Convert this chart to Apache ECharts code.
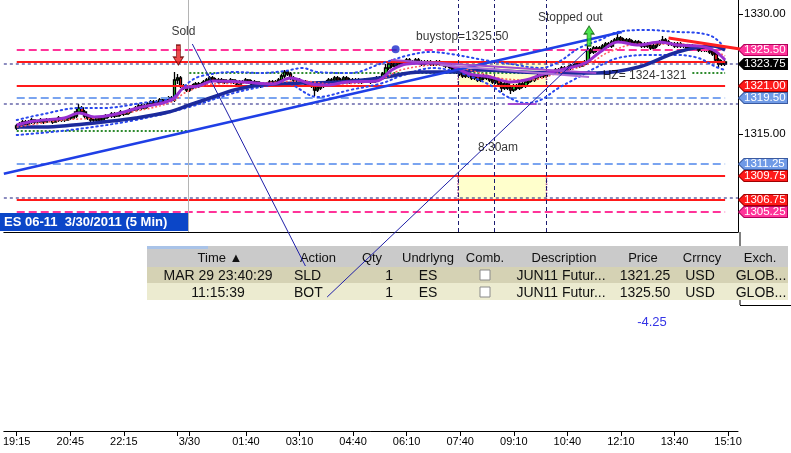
<!DOCTYPE html>
<html><head><meta charset="utf-8">
<script src="https://cdn.jsdelivr.net/npm/echarts@6.0.0/dist/echarts.min.js"></script>
<style>html,body{margin:0;padding:0;background:#fff}#c{width:791px;height:453px}</style>
</head><body><div id="c"></div>
<script>
// ---------- DATA ----------
// 5-minute bars from 19:15 (bar 0) to 14:55 (bar 238): [open, close, low, high]
const candles = [
[1315.75,1316.00,1315.50,1316.25],[1316.00,1316.25,1315.75,1316.50],[1316.25,1316.50,1316.00,1316.75],[1316.50,1316.25,1316.00,1316.75],
[1316.25,1316.50,1316.25,1316.75],[1316.50,1316.75,1316.25,1317.00],[1316.75,1316.50,1316.25,1316.75],[1316.50,1316.50,1316.25,1316.75],
[1316.50,1316.75,1316.50,1317.00],[1316.75,1316.50,1316.25,1316.75],[1316.50,1316.75,1316.50,1317.00],[1316.75,1316.75,1316.50,1317.00],
[1316.75,1316.50,1316.25,1316.75],[1316.50,1316.75,1316.50,1317.00],[1316.75,1317.00,1316.50,1317.25],[1317.00,1316.75,1316.50,1317.00],
[1316.75,1316.75,1316.50,1317.00],[1316.75,1317.00,1316.75,1317.25],[1317.00,1317.00,1316.75,1317.25],[1317.00,1317.25,1317.00,1317.50],
[1317.25,1317.75,1317.00,1318.25],[1317.75,1318.25,1317.50,1318.75],[1318.25,1317.75,1317.50,1318.50],[1317.75,1317.25,1317.00,1318.00],
[1317.25,1317.00,1316.75,1317.50],[1317.00,1316.75,1316.50,1317.25],[1316.75,1316.75,1316.50,1317.00],[1316.75,1317.00,1316.50,1317.25],
[1317.00,1316.75,1316.50,1317.00],[1316.75,1317.00,1316.75,1317.25],[1317.00,1317.25,1317.00,1317.50],[1317.25,1317.25,1317.00,1317.50],
[1317.25,1317.50,1317.00,1317.75],[1317.50,1317.25,1317.00,1317.75],[1317.25,1317.50,1317.25,1317.75],[1317.50,1317.75,1317.25,1318.00],
[1317.75,1317.50,1317.25,1317.75],[1317.50,1317.75,1317.50,1318.00],[1317.75,1318.00,1317.50,1318.25],[1318.00,1318.00,1317.75,1318.25],
[1318.00,1318.25,1318.00,1318.50],[1318.25,1318.50,1318.00,1318.75],[1318.50,1318.25,1318.00,1318.75],[1318.25,1318.50,1318.25,1318.75],
[1318.50,1318.75,1318.25,1319.00],[1318.75,1319.00,1318.50,1319.25],[1319.00,1318.75,1318.50,1319.25],[1318.75,1319.00,1318.75,1319.25],
[1319.00,1319.25,1318.75,1319.50],[1319.25,1319.00,1318.75,1319.50],[1319.00,1319.25,1319.00,1319.50],[1319.25,1319.50,1319.00,1319.75],
[1319.50,1319.25,1319.00,1319.75],[1319.25,1321.75,1319.00,1322.75],[1321.75,1322.00,1321.25,1322.50],[1322.00,1321.00,1320.75,1322.25],
[1321.00,1320.75,1320.50,1321.25],[1320.75,1320.50,1320.25,1321.00],[1320.50,1320.75,1320.25,1321.00],[1320.75,1321.00,1320.50,1321.25],
[1321.00,1321.25,1320.75,1321.50],[1321.25,1321.00,1320.75,1321.50],[1321.00,1321.25,1321.00,1321.50],[1321.25,1321.50,1321.00,1321.75],
[1321.50,1321.75,1321.25,1322.00],[1321.75,1322.00,1321.50,1322.25],[1322.00,1321.75,1321.50,1322.25],[1321.75,1321.75,1321.50,1322.00],
[1321.75,1321.50,1321.25,1322.00],[1321.50,1321.75,1321.50,1322.00],[1321.75,1321.50,1321.25,1321.75],[1321.50,1321.50,1321.25,1321.75],
[1321.50,1321.75,1321.50,1322.00],[1321.75,1321.50,1321.25,1321.75],[1321.50,1321.25,1321.00,1321.75],[1321.25,1321.50,1321.25,1321.75],
[1321.50,1321.50,1321.25,1321.75],[1321.50,1321.75,1321.50,1322.00],[1321.75,1321.50,1321.25,1321.75],[1321.50,1321.25,1321.00,1321.75],
[1321.25,1321.50,1321.00,1321.75],[1321.50,1321.25,1321.00,1321.50],[1321.25,1321.00,1320.75,1321.50],[1321.00,1321.25,1321.00,1321.50],
[1321.25,1321.25,1321.00,1321.50],[1321.25,1321.50,1321.25,1321.75],[1321.50,1321.25,1321.00,1321.75],[1321.25,1321.50,1321.25,1321.75],
[1321.50,1321.75,1321.50,1322.00],[1321.75,1322.25,1321.75,1322.50],[1322.25,1322.75,1322.00,1323.00],[1322.75,1322.50,1322.25,1323.00],
[1322.50,1322.00,1321.75,1322.75],[1322.00,1321.75,1321.50,1322.25],[1321.75,1321.75,1321.50,1322.00],[1321.75,1321.50,1321.25,1322.00],
[1321.50,1321.50,1321.25,1321.75],[1321.50,1321.25,1321.00,1321.75],[1321.25,1321.25,1321.00,1321.50],[1321.25,1321.00,1320.75,1321.50],
[1321.00,1320.50,1319.75,1321.25],[1320.50,1320.75,1320.25,1321.00],[1320.75,1321.00,1320.50,1321.25],[1321.00,1321.25,1320.75,1321.50],
[1321.25,1321.50,1321.00,1321.75],[1321.50,1321.75,1321.25,1322.00],[1321.75,1321.75,1321.50,1322.00],[1321.75,1322.00,1321.50,1322.25],
[1322.00,1321.75,1321.50,1322.25],[1321.75,1321.75,1321.50,1322.00],[1321.75,1322.00,1321.75,1322.25],[1322.00,1321.75,1321.50,1322.25],
[1321.75,1321.50,1321.25,1322.00],[1321.50,1321.75,1321.50,1322.00],[1321.75,1321.75,1321.50,1322.00],[1321.75,1321.50,1321.25,1322.00],
[1321.50,1321.50,1321.25,1321.75],[1321.50,1321.75,1321.50,1322.00],[1321.75,1321.75,1321.50,1322.00],[1321.75,1321.50,1321.25,1322.00],
[1321.50,1321.75,1321.50,1322.00],[1321.75,1322.00,1321.50,1322.25],[1322.00,1322.00,1321.75,1322.25],[1322.00,1322.50,1321.75,1322.75],
[1322.50,1323.25,1322.25,1323.75],[1323.25,1323.75,1323.00,1324.00],[1323.75,1323.50,1323.25,1324.25],[1323.50,1323.75,1323.25,1324.00],
[1323.75,1324.00,1323.50,1324.25],[1324.00,1323.75,1323.50,1324.25],[1323.75,1324.00,1323.75,1324.25],[1324.00,1324.25,1323.75,1324.50],
[1324.25,1324.00,1323.75,1324.50],[1324.00,1324.00,1323.75,1324.25],[1324.00,1324.25,1323.75,1324.50],[1324.25,1324.00,1323.75,1324.50],
[1324.00,1323.75,1323.50,1324.25],[1323.75,1324.00,1323.50,1324.25],[1324.00,1324.00,1323.75,1324.25],[1324.00,1323.75,1323.50,1324.25],
[1323.75,1323.75,1323.50,1324.00],[1323.75,1324.00,1323.50,1324.25],[1324.00,1323.75,1323.50,1324.25],[1323.75,1323.75,1323.50,1324.00],
[1323.75,1323.50,1323.25,1324.00],[1323.50,1323.50,1323.25,1323.75],[1323.50,1323.25,1323.00,1323.75],[1323.25,1323.00,1322.75,1323.50],
[1323.00,1322.75,1322.50,1323.25],[1322.75,1322.50,1322.25,1323.00],[1322.50,1322.25,1322.00,1322.75],[1322.25,1322.50,1322.00,1322.75],
[1322.50,1322.25,1322.00,1322.75],[1322.25,1322.00,1321.75,1322.50],[1322.00,1322.25,1321.75,1322.50],[1322.25,1321.75,1321.50,1322.50],
[1321.75,1322.00,1321.50,1322.25],[1322.00,1322.25,1321.75,1322.50],[1322.25,1322.00,1321.75,1322.50],[1322.00,1321.75,1321.50,1322.25],
[1321.75,1321.50,1321.25,1322.00],[1321.50,1321.75,1321.25,1322.00],[1321.75,1321.25,1321.00,1322.00],[1321.25,1320.75,1320.25,1321.50],
[1320.75,1321.25,1320.50,1321.50],[1321.25,1320.75,1320.50,1321.50],[1320.75,1320.50,1320.00,1321.00],[1320.50,1321.00,1320.25,1321.25],
[1321.00,1320.75,1320.50,1321.25],[1320.75,1321.25,1320.50,1321.50],[1321.25,1321.00,1320.75,1321.50],[1321.00,1321.50,1320.75,1321.75],
[1321.50,1321.75,1321.25,1322.00],[1321.75,1321.75,1321.50,1322.00],[1321.75,1322.00,1321.50,1322.25],[1322.00,1322.25,1321.75,1322.50],
[1322.25,1322.50,1322.00,1322.75],[1322.50,1322.25,1322.00,1322.75],[1322.25,1322.50,1322.25,1322.75],[1322.50,1322.75,1322.25,1323.00],
[1322.75,1322.75,1322.50,1323.00],[1322.75,1323.00,1322.50,1323.25],[1323.00,1323.00,1322.75,1323.25],[1323.00,1323.25,1322.75,1323.50],
[1323.25,1323.00,1322.75,1323.50],[1323.00,1323.25,1323.00,1323.50],[1323.25,1323.50,1323.00,1323.75],[1323.50,1323.50,1323.25,1323.75],
[1323.50,1323.75,1323.25,1324.00],[1323.75,1323.50,1323.25,1324.00],[1323.50,1323.75,1323.50,1324.00],[1323.75,1324.00,1323.50,1324.25],
[1324.00,1325.50,1323.75,1326.00],[1325.50,1325.25,1325.00,1325.75],[1325.25,1325.75,1325.00,1326.00],[1325.75,1325.50,1325.25,1326.00],
[1325.50,1325.75,1325.25,1326.00],[1325.75,1326.00,1325.50,1326.25],[1326.00,1326.25,1325.75,1326.50],[1326.25,1326.00,1325.75,1326.50],
[1326.00,1326.50,1325.75,1326.75],[1326.50,1326.75,1326.25,1327.00],[1326.75,1327.00,1326.50,1327.50],[1327.00,1326.75,1326.50,1327.25],
[1326.75,1326.50,1326.25,1327.00],[1326.50,1326.75,1326.25,1327.00],[1326.75,1326.50,1326.25,1327.00],[1326.50,1326.25,1326.00,1326.75],
[1326.25,1326.50,1326.00,1326.75],[1326.50,1326.25,1326.00,1326.75],[1326.25,1326.00,1325.75,1326.50],[1326.00,1326.25,1325.75,1326.50],
[1326.25,1326.00,1325.75,1326.50],[1326.00,1325.75,1325.50,1326.25],[1325.75,1326.00,1325.50,1326.25],[1326.00,1326.25,1325.75,1326.50],
[1326.25,1326.50,1326.00,1326.75],[1326.50,1326.75,1326.25,1327.25],[1326.75,1326.50,1326.25,1327.00],[1326.50,1326.25,1326.00,1326.75],
[1326.25,1326.25,1326.00,1326.50],[1326.25,1326.00,1325.75,1326.50],[1326.00,1326.25,1325.75,1326.50],[1326.25,1326.00,1325.75,1326.50],
[1326.00,1326.00,1325.75,1326.25],[1326.00,1325.75,1325.50,1326.25],[1325.75,1326.00,1325.50,1326.25],[1326.00,1325.75,1325.50,1326.25],
[1325.75,1325.75,1325.50,1326.00],[1325.75,1325.50,1325.25,1326.00],[1325.50,1325.75,1325.25,1326.00],[1325.75,1325.50,1325.25,1326.00],
[1325.50,1325.50,1325.25,1325.75],[1325.50,1325.25,1325.00,1325.75],[1325.25,1325.00,1324.75,1325.50],[1325.00,1324.25,1324.00,1325.25],
[1324.25,1323.75,1323.25,1324.50],[1323.75,1324.00,1323.50,1324.25],[1324.00,1323.75,1323.50,1324.25]
];
// indicator lines: [bar, price]
const fastMA = [[0,1316.125],[6,1316.625],[16,1317.0],[21,1317.625],[26,1317.125],[32,1317.375],[42,1318.375],[49,1318.875],[53,1319.5],[56,1320.75],[61,1321.0],[66,1321.625],[76,1321.5],[86,1321.25],[92,1322.0],[99,1321.25],[104,1321.125],[111,1321.5],[121,1321.625],[126,1323.0],[131,1323.75],[141,1323.875],[147,1323.375],[152,1322.5],[159,1322.125],[166,1321.5],[171,1321.75],[177,1322.5],[184,1323.125],[191,1323.875],[196,1325.25],[202,1326.5],[209,1326.125],[216,1326.5],[222,1326.125],[229,1326.0],[234,1325.5],[238,1324.25]];
const redMA = [[0,1315.875],[16,1316.75],[26,1317.0],[42,1318.0],[52,1319.0],[57,1320.25],[66,1321.25],[82,1321.375],[96,1321.625],[106,1321.25],[122,1321.75],[129,1323.0],[142,1323.625],[152,1323.0],[162,1322.0],[172,1321.75],[182,1322.625],[192,1323.75],[199,1325.25],[209,1326.25],[222,1326.25],[232,1325.75],[238,1324.75]];
const upperBand = [[0,1316.75],[9,1317.5],[21,1318.25],[29,1318.25],[42,1318.875],[52,1319.5],[58,1321.5],[62,1322.25],[73,1322.75],[82,1322.625],[90,1322.875],[96,1323.25],[101,1322.75],[112,1322.625],[123,1323.875],[132,1324.875],[139,1325.25],[146,1325.0],[157,1324.25],[166,1323.75],[176,1323.25],[182,1324.0],[189,1325.75],[196,1326.75],[202,1327.75],[212,1328.0],[222,1327.75],[229,1327.625],[234,1327.125],[238,1325.75]];
const lowerBand = [[0,1314.875],[18,1315.5],[40,1316.75],[58,1318.375],[73,1320.125],[82,1320.875],[90,1321.375],[101,1319.625],[112,1320.5],[123,1321.375],[129,1322.25],[140,1323.25],[149,1322.625],[159,1321.125],[165,1319.625],[171,1318.875],[176,1319.25],[182,1320.75],[187,1321.75],[195,1323.375],[202,1324.5],[212,1324.875],[222,1324.875],[229,1324.5],[235,1323.375],[238,1323.0]];
const slowMA = [[0,1315.875],[9,1315.875],[19,1316.125],[29,1316.5],[40,1317.0],[51,1317.75],[58,1318.625],[68,1319.875],[73,1320.5],[82,1321.125],[96,1321.375],[109,1321.5],[122,1322.0],[136,1322.75],[146,1322.75],[156,1323.0],[169,1322.75],[182,1322.625],[195,1322.625],[209,1323.375],[222,1325.25],[234,1326.0],[238,1325.5]];
// drawn trend lines / annotations: [bar, price]
const blueTrend = [[-4.333,1310.04],[203.3,1327.75]];
const redTrend = [[219,1327.0],[243,1325.625]];
const purpleLine1 = [[125.7,1324.25],[194.7,1322.625]];
const purpleLine2 = [[142.3,1323.625],[192.3,1322.125]];
const purpleLine3 = [[165,1318.75],[174.7,1318.75]];
const soldLink = [[59,1326.25],[97,1298.5]];
const botLink = [[192.3,1325.75],[104.3,1294.625]];
// horizontal levels
const pinkDashLevels = [1325.5, 1305.25];
const redLevels = [1324, 1321, 1309.75, 1306.75];
const blueDashLevels = [1319.5, 1311.25];
const navyDashLevels = [1323.75, 1318.75, 1307.0];
const greenDotted = [[[0,1315.375],[58,1315.375]],[[58,1322.625],[196,1322.625]],[[227,1322.625],[238,1322.625]]];
const zoneBars = [148.3, 178];
const zonePrices = [[1324, 1321], [1309.75, 1306.75]];
const verticalBars = [148.3, 160.3, 178];
const daySeparatorBar = 57.7;
const blueDot = [127.3, 1325.6];
const soldArrow = [54.3, 1324.875];
const stoppedArrow = [192.3, 1327.25];
const annotTexts = ['Sold', 'buystop=1325.50', 'Stopped out', 'HZ= 1324-1321', '8:30am'];
const annotPos = [[56,1327.75],[149.7,1327.125],[186,1329.5],[196.7,1322.3],[161.7,1313.25]];
// axis
const timeTickBars = [0,18,36,54,58,77,95,113,131,149,167,185,203,221,239];
const timeLabelBars = [0,18,36,58,77,95,113,131,149,167,185,203,221,239];
const timeLabels = ['19:15','20:45','22:15','3/30','01:40','03:10','04:40','06:10','07:40','09:10','10:40','12:10','13:40','15:10'];
const priceTickValues = [1330, 1315];
const priceLabelValues = [1330, 1325.5, 1323.75, 1321, 1319.5, 1315, 1311.25, 1309.75, 1306.75, 1305.25];
const tagValues = [1325.5, 1323.75, 1321, 1319.5, 1311.25, 1309.75, 1306.75, 1305.25];
const tagKinds = ['pink','black','red','blue','blue','red','red','pink'];
// table
const chartTitle = 'ES 06-11  3/30/2011 (5 Min)';
const tableHeader = ['Time \u25B2','Action','Qty','Undrlyng','Comb.','Description','Price','Crrncy','Exch.'];
const tableRows = [
  ['MAR 29 23:40:29','SLD','1','ES','','JUN11 Futur...','1321.25','USD','GLOB...'],
  ['11:15:39','BOT','1','ES','','JUN11 Futur...','1325.50','USD','GLOB...']
];
const pnlText = '-4.25';

// ---------- CHART ----------
const F = "'Liberation Sans', Arial, sans-serif";
const X_MIN = -13/3, X_MAX = 727/3;
const LAST = candles.length - 1;

function tagCanvas(fill, stroke) {
  const c = document.createElement('canvas');
  c.width = 100; c.height = 24;
  const g = c.getContext('2d');
  g.scale(2, 2);
  g.beginPath();
  g.moveTo(0.5, 6); g.lineTo(6, 0.5); g.lineTo(49.5, 0.5); g.lineTo(49.5, 11.5); g.lineTo(6, 11.5); g.closePath();
  g.fillStyle = fill; g.fill();
  g.strokeStyle = stroke; g.lineWidth = 1; g.stroke();
  return c;
}
function tagStyle(fill, stroke) {
  return {backgroundColor: {image: tagCanvas(fill, stroke)}, color: '#fff', fontSize: 11.5, fontFamily: F,
          width: 43, height: 12, lineHeight: 12, padding: [0, 1, 0, 6], align: 'left'};
}
function seg(data, style, z) {
  return {type: 'line', data: data, symbol: 'none', showSymbol: false, lineStyle: style, z: z, silent: true, clip: false};
}
function curve(data, style, z) {
  return {type: 'line', data: data, symbol: 'none', showSymbol: false, smooth: 0.35, lineStyle: style, z: z, silent: true};
}

const series = [];
// zones + verticals
series.push({
  type: 'line', data: [[X_MIN, 1302.75]], symbol: 'none', lineStyle: {width: 0}, silent: true,
  markArea: {silent: true, itemStyle: {color: '#ffffcc', borderColor: '#9a3a8a', borderWidth: 1.5, borderType: 'dotted'},
    data: zonePrices.map(p => [{coord: [zoneBars[0], p[0]]}, {coord: [zoneBars[1], p[1]]}])},
  markLine: {silent: true, symbol: ['none', 'none'], label: {show: false},
    data: [{xAxis: daySeparatorBar, lineStyle: {color: '#b4b4b4', width: 1, type: 'solid'}}]
      .concat(verticalBars.map(b => ({xAxis: b, lineStyle: {color: '#1c1c70', width: 1, type: [4, 3]}})))}
});
// green dotted
greenDotted.forEach(d => series.push(seg(d, {color: '#2e8b2e', width: 2, type: [2, 2]}, 3)));
// candles
series.push({
  type: 'candlestick', data: candles.map((d, i) => [i, d[0], d[1], d[2], d[3]]), encode: {x: 0, y: [1, 2, 3, 4]},
  barWidth: 3.2, z: 3, silent: true,
  itemStyle: {color: '#2fd02f', color0: '#e82020', borderColor: '#000', borderColor0: '#000', borderWidth: 1.3}
});
// horizontal levels
pinkDashLevels.forEach(p => series.push(seg([[0, p], [LAST, p]], {color: '#ff3399', width: 2, type: [8, 4]}, 4)));
redLevels.forEach(p => series.push(seg([[0, p], [LAST, p]], {color: '#ff1a1a', width: 2}, 4)));
blueDashLevels.forEach(p => series.push(seg([[0, p], [LAST, p]], {color: '#7aa4f0', width: 2, type: [8, 4]}, 4)));
navyDashLevels.forEach(p => series.push(seg([[X_MIN, p], [X_MAX, p]], {color: '#1a1a80', width: 1, type: [3, 3]}, 4)));
// indicators
series.push(curve(upperBand, {color: '#2a48ee', width: 2, type: [1.5, 3.5], cap: 'round'}, 5));
series.push(curve(lowerBand, {color: '#2a48ee', width: 2, type: [1.5, 3.5], cap: 'round'}, 5));
series.push(curve(slowMA, {color: '#1c2a9c', width: 3.5}, 5));
series.push(curve(redMA, {color: '#ff5a5a', width: 1.5, type: [2, 2]}, 6));
series.push(curve(fastMA, {color: '#9a2fd0', width: 3}, 6));
// trend lines
series.push(seg(blueTrend, {color: '#1f3fe6', width: 2.5}, 7));
series.push(seg(redTrend, {color: '#ff2020', width: 3}, 7));
series.push(seg(purpleLine1, {color: '#a24bd0', width: 2}, 7));
series.push(seg(purpleLine2, {color: '#b070d8', width: 2}, 7));
series.push(seg(purpleLine3, {color: '#a24bd0', width: 2}, 7));
series.push(seg(soldLink, {color: '#2020a8', width: 1}, 8));
series.push(seg(botLink, {color: '#2020a8', width: 1}, 8));
// markers
series.push({
  type: 'scatter', z: 9, silent: true, clip: false,
  data: [
    {value: blueDot, symbol: 'circle', symbolSize: 8, itemStyle: {color: '#1a2acc'}},
    {value: soldArrow, symbol: 'path://M3,0 L7,0 L7,12 L10,12 L5,20 L0,12 L3,12 Z', symbolSize: [10, 20],
      itemStyle: {color: '#e82020', borderColor: '#6a0000', borderWidth: 1}},
    {value: stoppedArrow, symbol: 'path://M5,0 L10,8 L7,8 L7,20 L3,20 L3,8 L0,8 Z', symbolSize: [10, 20],
      itemStyle: {color: '#22dd22', borderColor: '#0a5a0a', borderWidth: 1}}
  ]
});
// text annotations
series.push({
  type: 'scatter', z: 10, silent: true, clip: false, symbolSize: 1, itemStyle: {color: 'rgba(0,0,0,0)'},
  data: annotTexts.map((t, i) => ({name: t, value: annotPos[i],
    label: {show: true, formatter: '{b}', color: '#000', fontSize: 12, fontFamily: F,
      position: t.indexOf('HZ') === 0 ? 'right' : 'inside', distance: 0}}))
});

// y axis label rich styles
const rich = {
  plain: {color: '#000', fontSize: 11.5, fontFamily: F, padding: [0, 0, 0, 6]},
  pink: tagStyle('#ff3399', '#b0005a'),
  black: tagStyle('#000000', '#000000'),
  red: tagStyle('#ff1a1a', '#a00000'),
  blue: tagStyle('#6f9ae6', '#3a5aa0')
};

// table graphics
const colCenters = [220, 318, 372, 428, 485, 564, 643, 702, 760];
const rowAlign = ['center', 'left', 'right', 'center', 'center', 'center', 'center', 'center', 'center'];
const rowX = [218, 294, 393, 428, 485, 561, 645, 700, 761];
const graphics = [];
graphics.push({type: 'rect', shape: {x: 0, y: 213, width: 188, height: 18}, style: {fill: '#0b46c8'}, z: 20});
graphics.push({type: 'text', x: 4, y: 222, style: {text: chartTitle, fill: '#fff', font: 'bold 13px ' + F, verticalAlign: 'middle', textVerticalAlign: 'middle'}, z: 21});
graphics.push({type: 'line', shape: {x1: 740, y1: 232, x2: 740, y2: 247}, style: {stroke: '#000', lineWidth: 1}});
graphics.push({type: 'line', shape: {x1: 740, y1: 300, x2: 740, y2: 305}, style: {stroke: '#000', lineWidth: 1}});
graphics.push({type: 'line', shape: {x1: 740, y1: 305.5, x2: 791, y2: 305.5}, style: {stroke: '#000', lineWidth: 1}});
graphics.push({type: 'rect', shape: {x: 147, y: 246, width: 641, height: 21}, style: {fill: '#cacaca'}});
graphics.push({type: 'rect', shape: {x: 147, y: 246, width: 61, height: 3}, style: {fill: '#a9c3e8'}});
graphics.push({type: 'rect', shape: {x: 147, y: 267, width: 641, height: 16}, style: {fill: '#d5d2b4'}});
graphics.push({type: 'rect', shape: {x: 147, y: 283, width: 641, height: 17}, style: {fill: '#ecebd0'}});
tableHeader.forEach((h, i) => graphics.push({type: 'text', x: colCenters[i], y: 258,
  style: {text: h, fill: '#111', font: '13px ' + F, align: 'center', textAlign: 'center', verticalAlign: 'middle', textVerticalAlign: 'middle'}}));
tableRows.forEach((row, r) => {
  const cy = r === 0 ? 276 : 293;
  row.forEach((cell, i) => {
    if (i === 4) {
      graphics.push({type: 'rect', shape: {x: 480, y: cy - 6, width: 10, height: 10}, style: {fill: '#fff', stroke: '#8a8a8a', lineWidth: 1}});
    } else {
      graphics.push({type: 'text', x: rowX[i], y: cy,
        style: {text: cell, fill: '#111', font: '14px ' + F, align: rowAlign[i], textAlign: rowAlign[i], verticalAlign: 'middle', textVerticalAlign: 'middle'}});
    }
  });
});
graphics.push({type: 'text', x: 652, y: 322, style: {text: pnlText, fill: '#3535e6', font: '13px ' + F, align: 'center', textAlign: 'center', verticalAlign: 'middle', textVerticalAlign: 'middle'}});

const option = {
  animation: false,
  backgroundColor: '#ffffff',
  grid: {left: 0, right: 51, top: 0, height: 232, containLabel: false},
  xAxis: [
    {type: 'value', min: X_MIN, max: X_MAX, position: 'bottom', offset: 199,
      axisLine: {show: true, onZero: false, lineStyle: {color: '#000', width: 1}},
      axisTick: {show: true, customValues: timeTickBars, length: 5, inside: false, lineStyle: {color: '#000'}},
      axisLabel: {show: true, customValues: timeLabelBars, margin: 5, color: '#000', fontSize: 11, fontFamily: F,
        formatter: v => { const k = timeLabelBars.findIndex(b => Math.abs(b - v) < 0.01); return k < 0 ? '' : timeLabels[k]; }},
      splitLine: {show: false}},
    {type: 'value', min: X_MIN, max: X_MAX, position: 'bottom', offset: 0,
      axisLine: {show: true, onZero: false, lineStyle: {color: '#000', width: 1}}, axisTick: {show: false}, axisLabel: {show: false}, splitLine: {show: false}}
  ],
  yAxis: {type: 'value', position: 'right', min: 1302.75, max: 1331.75,
    axisLine: {show: true, onZero: false, lineStyle: {color: '#000', width: 1}},
    axisTick: {show: true, customValues: priceTickValues, length: 5, inside: false, lineStyle: {color: '#000'}},
    axisLabel: {show: true, customValues: priceLabelValues, margin: 0, rich: rich,
      formatter: v => { const k = tagValues.findIndex(t => Math.abs(t - v) < 0.001); const s = Number(v).toFixed(2);
        return k < 0 ? '{plain|' + s + '}' : '{' + tagKinds[k] + '|' + s + '}'; }},
    splitLine: {show: false}},
  graphic: graphics,
  series: series
};
const chart = echarts.init(document.getElementById('c'), null, {renderer: 'canvas'});
chart.setOption(option);
</script></body></html>
